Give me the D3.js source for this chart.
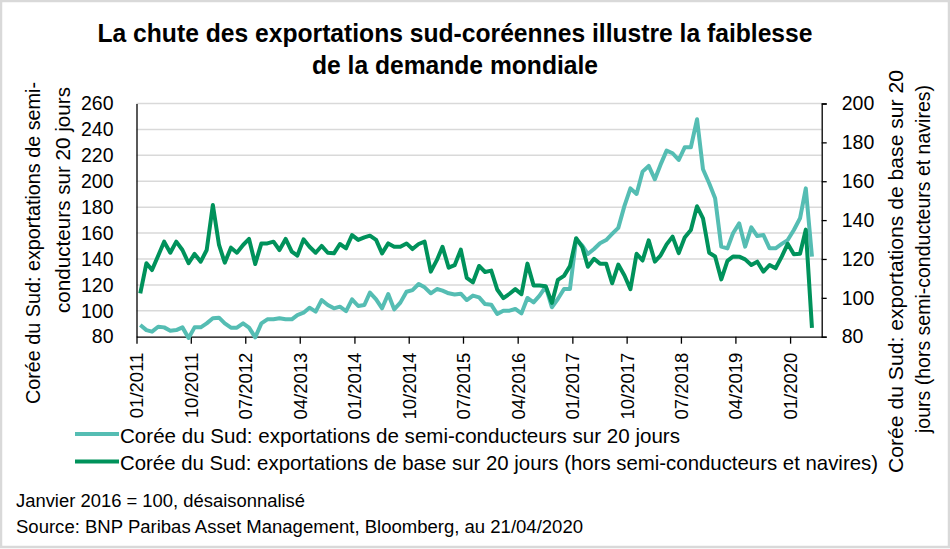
<!DOCTYPE html>
<html>
<head>
<meta charset="utf-8">
<script src="https://cdn.jsdelivr.net/npm/d3@7"></script>
<style>
  body { margin: 0; background: #fff; }
  svg text { font-family: "Liberation Sans", Arial, sans-serif; fill: #000; }
</style>
</head>
<body>
<svg id="chart"></svg>
<script>
// monthly points (20-day exports, dated the 20th), 01/2011 -> 04/2020
var firstMonth = "2011-01-20";

// semiconductors, left axis
var semis = [
  89.0, 85.1, 83.9, 87.7, 87.2, 84.6, 85.1, 87.2, 79.0, 87.2, 87.2, 90.3,
  94.2, 94.7, 90.3, 87.0, 87.0, 90.3, 87.0, 79.5, 90.3, 93.4, 93.4, 94.2,
  93.4, 93.4, 96.7, 98.5, 102.4, 99.3, 108.3, 104.5, 101.9, 103.2, 99.8, 108.8,
  103.7, 104.5, 114.0, 108.8, 101.9, 112.9, 101.1, 106.3, 114.7, 116.0, 120.7, 118.1,
  113.5, 116.8, 115.5, 113.5, 112.6, 113.2, 108.3, 111.7, 110.4, 105.2, 104.7, 97.5,
  100.1, 100.1, 101.4, 98.0, 109.9, 106.5, 111.7, 118.6, 102.7, 109.1, 116.8, 116.8,
  155.4, 150.3, 143.8, 147.7, 152.1, 154.6, 159.3, 164.0, 181.0, 194.5, 190.2, 207.4,
  211.8, 201.5, 212.6, 223.6, 221.6, 216.4, 226.2, 226.2, 247.8, 209.2, 198.4, 186.8,
  149.5, 148.2, 159.8, 167.5, 149.5, 164.4, 157.7, 158.5, 148.2, 148.2, 151.6, 154.6,
  162.4, 171.4, 194.5, 141.8
];

// base exports (excl. semis and ships), right axis
var base = [
  102.3, 117.8, 114.3, 121.7, 128.9, 123.2, 128.9, 124.6, 117.8, 122.6, 118.6, 124.6,
  147.8, 127.2, 118.1, 125.8, 123.2, 127.2, 130.3, 117.4, 128.0, 128.0, 128.9, 124.6,
  130.3, 123.8, 121.7, 130.1, 126.3, 123.2, 126.7, 123.2, 122.9, 127.7, 125.5, 132.3,
  129.8, 131.1, 132.0, 129.8, 122.9, 128.0, 126.3, 126.3, 128.0, 125.1, 127.7, 128.9,
  113.5, 119.5, 126.3, 115.5, 116.8, 124.8, 110.3, 108.0, 116.4, 113.3, 114.0, 104.3,
  99.8, 102.1, 104.5, 101.9, 117.6, 106.4, 106.4, 106.0, 97.4, 109.2, 111.3, 116.3,
  130.7, 126.1, 116.0, 120.1, 117.6, 117.6, 107.5, 117.1, 111.5, 104.5, 122.7, 119.2,
  129.6, 118.6, 121.7, 127.5, 131.5, 123.0, 131.0, 134.9, 147.1, 140.9, 123.2, 121.3,
  109.5, 119.0, 121.3, 121.2, 119.8, 116.9, 118.6, 113.5, 116.9, 115.2, 121.2, 127.8,
  122.4, 122.7, 135.1, 84.5
];

var xTickLabels = ["01/2011", "10/2011", "07/2012", "04/2013", "01/2014", "10/2014", "07/2015",
                   "04/2016", "01/2017", "10/2017", "07/2018", "04/2019", "01/2020"];
var leftTicks = [80, 100, 120, 140, 160, 180, 200, 220, 240, 260];
var rightTicks = [80, 100, 120, 140, 160, 180, 200];

var titleLines = ["La chute des exportations sud-coréennes illustre la faiblesse", "de la demande mondiale"];
var leftTitle = ["Corée du Sud: exportations de semi-", "conducteurs sur 20 jours"];
var rightTitle = ["Corée du Sud: exportations de base sur 20", "jours (hors semi-conducteurs et navires)"];
var legendLabels = ["Corée du Sud: exportations de semi-conducteurs sur 20 jours",
                    "Corée du Sud: exportations de base sur 20 jours (hors semi-conducteurs et navires)"];
var notes = ["Janvier 2016 = 100, désaisonnalisé", "Source: BNP Paribas Asset Management, Bloomberg, au 21/04/2020"];

var colSemis = "#55bdb3", colBase = "#00925b";

var W = 950, H = 549;
var plot = {left: 136.5, right: 821.7, top: 103.5, bottom: 336.7};

var svg = d3.select("#chart").attr("width", W).attr("height", H);

svg.append("rect")
  .attr("x", 1).attr("y", 1).attr("width", W - 2).attr("height", H - 3)
  .attr("fill", "#fff").attr("stroke", "#d9d9d9").attr("stroke-width", 2.5);

var parseM = d3.timeParse("%m/%Y");
var start = d3.timeParse("%Y-%m-%d")(firstMonth);
var dates = semis.map(function(d, i) { return d3.timeMonth.offset(start, i); });

var x = d3.scaleTime()
  .domain([new Date(2011, 0, 1), new Date(2020, 5, 8)])
  .range([plot.left, plot.right]);
var yL = d3.scaleLinear().domain([80, 260]).range([plot.bottom, plot.top]);
var yR = d3.scaleLinear().domain([80, 200]).range([plot.bottom, plot.top]);

// gridlines
svg.append("g")
  .selectAll("line")
  .data(leftTicks.slice(1))
  .enter().append("line")
  .attr("x1", plot.left).attr("x2", plot.right)
  .attr("y1", function(d) { return yL(d); }).attr("y2", function(d) { return yL(d); })
  .attr("stroke", "#d9d9d9").attr("stroke-width", 1.5);

// left axis (no tick marks)
var gL = svg.append("g")
  .attr("transform", "translate(" + plot.left + ",0)")
  .call(d3.axisLeft(yL).tickValues(leftTicks).tickSize(0).tickPadding(23));
gL.select(".domain").attr("stroke", "#000").attr("stroke-width", 1.3);
gL.selectAll("text").style("font-size", "19.5px");

// right axis
var gR = svg.append("g")
  .attr("transform", "translate(" + plot.right + ",0)")
  .call(d3.axisRight(yR).tickValues(rightTicks).tickSize(5).tickPadding(15));
gR.select(".domain").attr("stroke", "#000").attr("stroke-width", 1.3);
gR.selectAll("line").attr("stroke", "#000").attr("stroke-width", 1.3);
gR.selectAll("text").style("font-size", "19.5px");

// x axis
var gX = svg.append("g")
  .attr("transform", "translate(0," + plot.bottom + ")")
  .call(d3.axisBottom(x)
    .tickValues(xTickLabels.map(parseM))
    .tickFormat(d3.timeFormat("%m/%Y"))
    .tickSize(7).tickSizeOuter(0));
gX.select(".domain").attr("stroke", "#000").attr("stroke-width", 1.3);
gX.selectAll("line").attr("stroke", "#000").attr("stroke-width", 1.3);
gX.selectAll("text")
  .style("font-size", "18.5px")
  .attr("transform", "rotate(-90)")
  .attr("x", -16).attr("y", 0).attr("dy", "0.35em")
  .style("text-anchor", "end");

// lines
var lineL = d3.line()
  .x(function(d, i) { return x(dates[i]); })
  .y(function(d) { return yL(d); });
var lineR = d3.line()
  .x(function(d, i) { return x(dates[i]); })
  .y(function(d) { return yR(d); });

svg.append("path").datum(semis)
  .attr("d", lineL).attr("fill", "none")
  .attr("stroke", colSemis).attr("stroke-width", 4).attr("stroke-linejoin", "round");
svg.append("path").datum(base)
  .attr("d", lineR).attr("fill", "none")
  .attr("stroke", colBase).attr("stroke-width", 4).attr("stroke-linejoin", "round");

// title (narrow face in the original, so squeeze to the measured widths)
var titleLen = [715, 286];
svg.selectAll(".title")
  .data(titleLines)
  .enter().append("text")
  .attr("class", "title")
  .attr("x", 455).attr("y", function(d, i) { return 42 + i * 32; })
  .attr("text-anchor", "middle")
  .attr("textLength", function(d, i) { return titleLen[i]; })
  .attr("lengthAdjust", "spacingAndGlyphs")
  .style("font-size", "25px").style("font-weight", "bold")
  .text(function(d) { return d; });

// axis titles
var leftLen = [322, 226];
svg.selectAll(".ltitle")
  .data(leftTitle)
  .enter().append("text")
  .attr("class", "ltitle")
  .attr("transform", function(d, i) { return "translate(" + (40 + i * 30) + "," + (i === 0 ? 82 : 87) + ") rotate(-90)"; })
  .attr("text-anchor", "end")
  .attr("textLength", function(d, i) { return leftLen[i]; })
  .attr("lengthAdjust", "spacingAndGlyphs")
  .style("font-size", "20px")
  .text(function(d) { return d; });

var rightLen = [403, 348];
svg.selectAll(".rtitle")
  .data(rightTitle)
  .enter().append("text")
  .attr("class", "rtitle")
  .attr("transform", function(d, i) { return "translate(" + (903 + i * 27) + "," + (i === 0 ? 271.5 : 259) + ") rotate(-90)"; })
  .attr("text-anchor", "middle")
  .attr("textLength", function(d, i) { return rightLen[i]; })
  .attr("lengthAdjust", "spacingAndGlyphs")
  .style("font-size", "20px")
  .text(function(d) { return d; });

// legend
var legLen = [560, 758];
var leg = svg.selectAll(".leg")
  .data(legendLabels)
  .enter().append("g")
  .attr("class", "leg")
  .attr("transform", function(d, i) { return "translate(75," + (434 + i * 27.5) + ")"; });
leg.append("line")
  .attr("x1", 0).attr("x2", 44).attr("y1", 0).attr("y2", 0)
  .attr("stroke", function(d, i) { return i === 0 ? colSemis : colBase; })
  .attr("stroke-width", 4);
leg.append("text")
  .attr("x", 45).attr("y", 8.5)
  .attr("textLength", function(d, i) { return legLen[i]; })
  .attr("lengthAdjust", "spacingAndGlyphs")
  .style("font-size", "21px")
  .text(function(d) { return d; });

// notes
var noteLen = [289, 567];
svg.selectAll(".note")
  .data(notes)
  .enter().append("text")
  .attr("class", "note")
  .attr("x", 16).attr("y", function(d, i) { return 507 + i * 26; })
  .attr("textLength", function(d, i) { return noteLen[i]; })
  .attr("lengthAdjust", "spacingAndGlyphs")
  .style("font-size", "17.5px")
  .text(function(d) { return d; });
</script>
</body>
</html>
